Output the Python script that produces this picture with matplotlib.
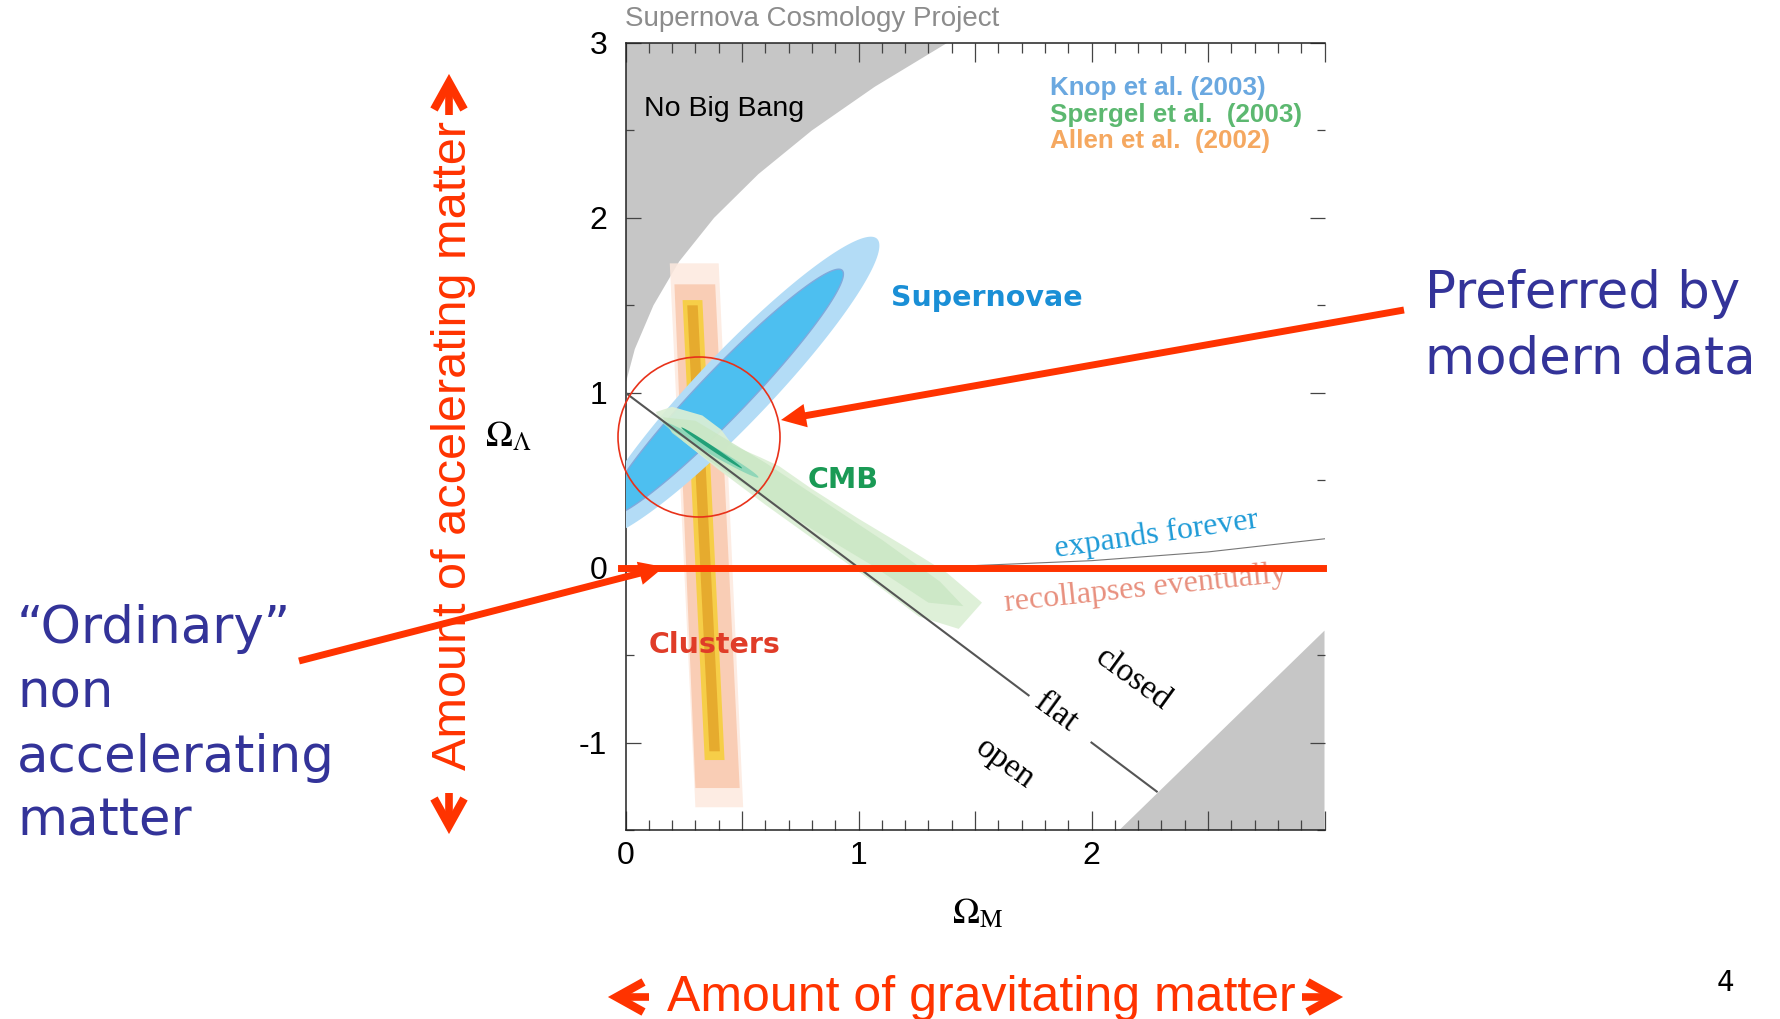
import matplotlib

matplotlib.use("Agg")
import matplotlib.pyplot as plt
import numpy as np
from matplotlib.lines import Line2D
from matplotlib.patches import Ellipse, FancyArrowPatch
from matplotlib.ticker import FuncFormatter, MultipleLocator

plt.rcParams["font.family"] = ["Liberation Sans", "DejaVu Sans"]
plt.rcParams["mathtext.fontset"] = "stix"
plt.rcParams["axes.unicode_minus"] = False

W, H = 1780, 1019          # output size in px (dpi 100)
RED = "#ff3300"
NAVY = "#333399"

# ---------------- values (Omega_M, Omega_Lambda) ----------------
# "No Big Bang" region (upper left), boundary then closing corner
nobang_x = [0.00, 0.04, 0.12, 0.23, 0.38, 0.57, 0.80, 1.07, 1.38, 0.00]
nobang_y = [1.05, 1.25, 1.50, 1.75, 2.00, 2.25, 2.50, 2.75, 3.00, 3.00]
# excluded region lower right
lowgray_x = [2.12, 3.00, 3.00]
lowgray_y = [-1.50, -0.36, -1.50]

# flat universe line (drawn in two pieces around the word "flat")
flat_x = [[0.00, 1.73], [2.00, 2.28]]
flat_y = [[1.00, -0.73], [-1.00, -1.28]]

# expand / recollapse boundary
recol_x = [1.0, 1.5, 2.0, 2.5, 3.0]
recol_y = [0.0, 0.012, 0.04, 0.09, 0.165]

# clusters band layers (outer -> inner)
clus_top_y = [1.74, 1.62, 1.53, 1.50]
clus_bot_y = [-1.37, -1.26, -1.10, -1.05]
clus_top_x = [(0.19, 0.40), (0.21, 0.385), (0.245, 0.33), (0.265, 0.31)]
clus_bot_x = [(0.30, 0.505), (0.30, 0.49), (0.34, 0.425), (0.36, 0.405)]
clus_colors = ["#fde9de", "#f9c8ad", "#f6cf35", "#e4a52a"]

# supernova confidence ellipses: centre, major-axis tip, conjugate half-width vector
sn_center = [(0.47, 1.03), (0.425, 1.00)]
sn_tip = [(1.08, 1.88), (0.93, 1.70)]
sn_minor = [(0.109, -0.146), (0.073, -0.097)]
sn_colors = ["#b3dcf6", "#4dbff0"]

# CMB band
cmb_outer_x = [0.13, 0.20, 0.33, 0.41, 0.46, 0.58, 0.66, 0.80, 1.00, 1.20, 1.38, 1.53,
               1.43, 1.26, 1.05, 0.83, 0.60, 0.40, 0.25, 0.15]
cmb_outer_y = [0.89, 0.92, 0.87, 0.79, 0.70, 0.63, 0.58, 0.45, 0.28, 0.12, -0.03, -0.20,
               -0.35, -0.28, -0.07, 0.14, 0.36, 0.56, 0.72, 0.84]
cmb_mid_x = [0.16, 0.30, 0.45, 0.60, 0.85, 1.10, 1.35, 1.45, 1.30, 1.05, 0.80, 0.55, 0.35, 0.20]
cmb_mid_y = [0.86, 0.84, 0.72, 0.60, 0.38, 0.16, -0.08, -0.22, -0.20, 0.02, 0.22, 0.44, 0.62, 0.77]
cmb_center = [(0.365, 0.675), (0.37, 0.685)]
cmb_tip = [(0.57, 0.52), (0.50, 0.57)]
cmb_minor = [(0.017, -0.040), (0.0095, -0.022)]
cmb_colors = ["#8fd6b8", "#21a077"]

legend_labels = ["Knop et al. (2003)", "Spergel et al.  (2003)", "Allen et al.  (2002)"]
legend_colors = ["#6aa8e0", "#5cb870", "#f5a860"]
legend_y = [2.74, 2.59, 2.44]


def px(x, y):
    """top-left pixel -> figure fraction"""
    return x / W, 1 - y / H


def conj_ellipse(center, tip, minor):
    t = np.linspace(0, 2 * np.pi, 240)
    ax_, ay_ = tip[0] - center[0], tip[1] - center[1]
    return (center[0] + ax_ * np.cos(t) + minor[0] * np.sin(t),
            center[1] + ay_ * np.cos(t) + minor[1] * np.sin(t))


def chevron(fig, apex, d, arm=27, half=15, stem=38, lw=6.0):
    """thick chevron arrow in pixel coords; d = unit direction of the point"""
    dx, dy = d
    vx, vy = apex[0] - 5.5 * dx, apex[1] - 5.5 * dy
    a1 = (vx - arm * dx - half * dy, vy - arm * dy + half * dx)
    a2 = (vx - arm * dx + half * dy, vy - arm * dy - half * dx)
    pts = [px(*a1), px(vx, vy), px(*a2)]
    fig.add_artist(Line2D([p[0] for p in pts], [p[1] for p in pts], color=RED, lw=lw,
                          solid_joinstyle="miter", solid_capstyle="butt",
                          transform=fig.transFigure))
    s0, s1 = px(apex[0] - stem * dx, apex[1] - stem * dy), px(vx - 3 * dx, vy - 3 * dy)
    fig.add_artist(Line2D([s0[0], s1[0]], [s0[1], s1[1]], color=RED, lw=5.5,
                          solid_capstyle="butt", transform=fig.transFigure))


fig = plt.figure(figsize=(W / 100, H / 100), dpi=100)
x0, y0 = px(625.5, 830)
ax = fig.add_axes([x0, y0, 699 / W, 787 / H])
ax.set_xlim(0, 3)
ax.set_ylim(-1.5, 3)

# excluded regions
ax.fill(nobang_x, nobang_y, color="#c6c6c6", lw=0, zorder=1)
ax.fill(lowgray_x, lowgray_y, color="#c6c6c6", lw=0, zorder=1)

# clusters
for (tl, tr), (bl, br), yt, yb, c in zip(clus_top_x, clus_bot_x, clus_top_y, clus_bot_y, clus_colors):
    ax.fill([tl, tr, br, bl], [yt, yt, yb, yb], color=c, lw=0, alpha=0.85, zorder=2)

# supernovae
for i, (c, t, m, col) in enumerate(zip(sn_center, sn_tip, sn_minor, sn_colors)):
    ex, ey = conj_ellipse(c, t, m)
    ax.fill(ex, ey, color=col, lw=1.0 if i else 0, ec="#7fa9dc" if i else col, zorder=3)

# CMB
ax.fill(cmb_outer_x, cmb_outer_y, color="#dcefd5", lw=0, alpha=0.92, zorder=4)
ax.fill(cmb_mid_x, cmb_mid_y, color="#c9e6c3", lw=0, alpha=0.8, zorder=4)
for c, t, m, col in zip(cmb_center, cmb_tip, cmb_minor, cmb_colors):
    ex, ey = conj_ellipse(c, t, m)
    ax.fill(ex, ey, color=col, lw=0, zorder=5)

# lines
for fx, fy in zip(flat_x, flat_y):
    ax.plot(fx, fy, color="#555555", lw=1.5, zorder=6)
ax.plot(recol_x, recol_y, color="#777777", lw=0.8, zorder=6)

# labels inside the plot
ax.text(0.078, 2.62, "No Big Bang", fontsize=20.5, va="center", zorder=7)
for lab, col, yy in zip(legend_labels, legend_colors, legend_y):
    ax.text(1.82, yy, lab, color=col, fontsize=18.7, fontweight="bold", va="center")
bold = dict(family="DejaVu Sans", fontweight="bold", va="center", fontsize=20.5)
ax.text(1.14, 1.54, "Supernovae", color="#1a8fd6", **bold)
ax.text(0.78, 0.50, "CMB", color="#1a9a55", **bold)
ax.text(0.10, -0.44, "Clusters", color="#e03c28", **bold)
serif = dict(family="Liberation Serif", ha="center", va="center", rotation_mode="anchor")
ax.text(2.28, 0.19, "expands forever", color="#1e9bd7", fontsize=23, rotation=8.3, **serif)
ax.text(2.23, -0.12, "recollapses eventually", color="#e8907e", fontsize=23, rotation=6, **serif)
ax.text(2.18, -0.64, "closed", fontsize=24, rotation=-36, **serif)
ax.text(1.845, -0.83, "flat", fontsize=24, rotation=-36, **serif)
ax.text(1.63, -1.12, "open", fontsize=24, rotation=-36, **serif)

# axes styling
for s in ["left", "bottom", "top"]:
    ax.spines[s].set_color("#222222")
    ax.spines[s].set_linewidth(1.1)
ax.spines["right"].set_visible(False)
ax.xaxis.set_major_locator(MultipleLocator(0.5))
ax.xaxis.set_minor_locator(MultipleLocator(0.1))
ax.yaxis.set_major_locator(MultipleLocator(1))
ax.yaxis.set_minor_locator(MultipleLocator(0.5))
ax.xaxis.set_major_formatter(FuncFormatter(
    lambda v, p: f"{v:.0f}" if abs(v - round(v)) < 1e-6 and v < 2.9 else ""))
ax.yaxis.set_major_formatter(FuncFormatter(lambda v, p: f"{v:.0f}"))
ax.tick_params(axis="x", which="major", direction="in", length=14, width=0.9, top=True,
               color="#444444", labelsize=23, pad=8)
ax.tick_params(axis="x", which="minor", direction="in", length=7, width=0.9, top=True, color="#444444")
ax.tick_params(axis="y", which="major", direction="in", length=11, width=0.9, right=True,
               color="#444444", labelsize=23, pad=13)
ax.tick_params(axis="y", which="minor", direction="in", length=6, width=0.9, right=True, color="#444444")

# red zero line
ax.axhline(0.0, xmin=-0.007, xmax=0.998, color=RED, lw=5, clip_on=False, zorder=10)

# figure-level text
fig.text(*px(625, 19.5), "Supernova Cosmology Project", color="#8c8c8c", fontsize=20, va="center")
fig.text(*px(508, 437), r"$\Omega_\Lambda$", fontsize=26, ha="center", va="center")
fig.text(*px(978, 914), r"$\Omega_\mathrm{M}$", fontsize=26, ha="center", va="center")

blue = dict(family="DejaVu Sans", color=NAVY, fontsize=37, va="baseline", ha="left")
fig.text(*px(1425, 308), "Preferred by", **blue)
fig.text(*px(1425, 373), "modern data", **blue)
for txt, yb in zip(["\u201cOrdinary\u201d", "non", "accelerating", "matter"], [643, 708, 772, 835]):
    fig.text(*px(17, yb), txt, **blue)

fig.text(*px(1725, 983), "4", family="DejaVu Sans", fontsize=20, ha="center", va="center")

fig.text(*px(981, 1011), "Amount of gravitating matter", color=RED, fontsize=36,
         ha="center", va="baseline")
fig.text(*px(454, 445), "Amount of accelerating matter", color=RED, fontsize=35,
         rotation=90, ha="center", va="center")
chevron(fig, (611, 997), (-1, 0))
chevron(fig, (1340, 997), (1, 0))
chevron(fig, (449, 77), (0, -1))
chevron(fig, (449, 831), (0, 1))

# red circle and pointer arrows
fig.add_artist(Ellipse(px(699, 437), 162 / W, 160 / H, transform=fig.transFigure,
                       fill=False, ec="#e8321a", lw=1.2, zorder=5))
for start, end in [((1404, 310), (781, 420)), ((299, 661), (664, 567))]:
    fig.add_artist(FancyArrowPatch(px(*start), px(*end), transform=fig.transFigure,
                                   arrowstyle="simple,head_length=1.8,head_width=1.7,tail_width=0.5",
                                   mutation_scale=10, color=RED, lw=0, shrinkA=0, shrinkB=0,
                                   zorder=6))

fig.savefig("out.png", dpi=100)
